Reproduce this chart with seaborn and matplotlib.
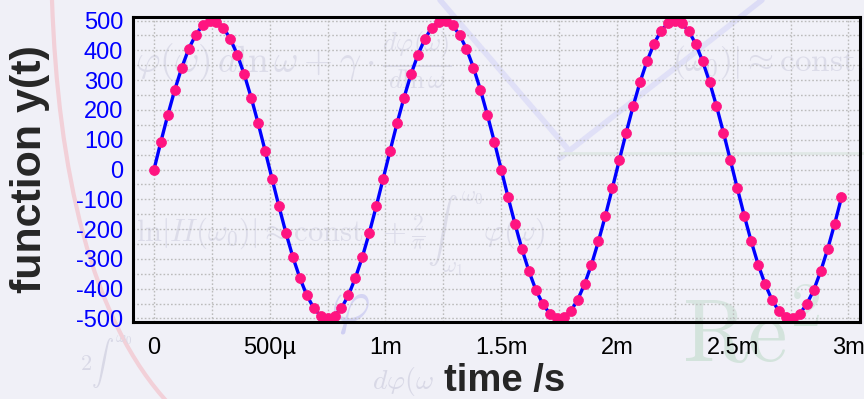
import numpy as np
import pandas as pd
import matplotlib
matplotlib.use("Agg")
import matplotlib.pyplot as plt
from matplotlib.lines import Line2D
from matplotlib.path import Path
from matplotlib.patches import PathPatch
import seaborn as sns

# sample times in microseconds (30 µs step)
t_us = [i * 30 for i in range(100)]

# measured function values y(t)
y_vals = [
    0, 94, 184, 268, 342, 405, 452, 484, 499, 496,
    476, 438, 385, 319, 241, 155, 63, -31, -124, -213,
    -294, -364, -422, -465, -491, -500, -491, -465, -422, -364,
    -294, -213, -124, -31, 63, 155, 241, 319, 385, 438,
    476, 496, 499, 484, 452, 405, 342, 268, 184, 94,
    0, -94, -184, -268, -342, -405, -452, -484, -499, -496,
    -476, -438, -385, -319, -241, -155, -63, 31, 124, 213,
    294, 364, 422, 465, 491, 500, 491, 465, 422, 364,
    294, 213, 124, 31, -63, -155, -241, -319, -385, -438,
    -476, -496, -499, -484, -452, -405, -342, -268, -184, -94,
]

x_ticks = [0, 500e-6, 1e-3, 1.5e-3, 2e-3, 2.5e-3, 3e-3]
x_ticklabels = ["0", "500µ", "1m", "1.5m", "2m", "2.5m", "3m"]
y_ticks = list(range(-500, 501, 100))
y_ticklabels = [str(v) for v in y_ticks]

df = pd.DataFrame({"t": np.array(t_us) * 1e-6, "y": y_vals})

sns.set_style("white")
plt.rcParams["font.family"] = ["Liberation Sans", "DejaVu Sans"]
plt.rcParams["mathtext.fontset"] = "cm"

W, H = 864, 399
bg = "#f0f0f7"
fig = plt.figure(figsize=(W / 100, H / 100), dpi=100, facecolor=bg)


def fx(px):
    return px / W


def fy(py):
    return 1 - py / H


# faint decorative backdrop: formulas, arcs and strokes (kept behind the axes)
deco = dict(color="#d8d8e6", zorder=-2, va="center", ha="left")
fig.text(fx(135), fy(60), r"$\varphi(\omega)\,d\ln\omega+\gamma\cdot\frac{d\varphi(\omega)}{d\ln\omega}$",
         fontsize=27, **deco)
fig.text(fx(672), fy(62), r"$(\omega_0)|\approx\mathrm{const.}$", fontsize=24, **deco)
fig.text(fx(136), fy(234), r"$\ln|H(\omega_0)|\approx\mathrm{const.}+\frac{2}{\pi}\int_{\omega_1}^{\omega_0}\varphi(\omega)$",
         fontsize=22, **deco)
fig.text(fx(80), fy(362), r"$2\int^{\omega_0}$", fontsize=16, **deco)
fig.text(fx(372), fy(382), r"$d\varphi(\omega$", fontsize=20, **deco)
fig.text(fx(330), fy(308), r"$\varphi$", fontsize=44, color="#cfcff2", zorder=-2, va="center", ha="left")
fig.text(fx(682), fy(338), r"$\mathrm{Re}^2$", fontsize=64, color="#d3e3dc", zorder=-2, va="center", ha="left")

arc = Path([(fx(52), fy(0)), (fx(58), fy(170)), (fx(90), fy(320)), (fx(170), fy(405))],
           [Path.MOVETO, Path.CURVE4, Path.CURVE4, Path.CURVE4])
fig.add_artist(PathPatch(arc, transform=fig.transFigure, fill=False,
                         edgecolor="#f2d0d8", lw=3, zorder=-2))
fig.add_artist(Line2D([fx(440), fx(567)], [fy(0), fy(148)], transform=fig.transFigure,
                      color="#dcdcf6", lw=4, zorder=-2))
fig.add_artist(Line2D([fx(560), fx(762)], [fy(158), fy(0)], transform=fig.transFigure,
                      color="#dcdcf6", lw=4, zorder=-2))
fig.add_artist(Line2D([fx(560), fx(864)], [fy(153), fy(153)], transform=fig.transFigure,
                      color="#dde6e2", lw=2, zorder=-2))

ax = fig.add_axes([fx(133), fy(322), (860 - 133) / W, (322 - 17) / H])
ax.set_facecolor((0.97, 0.97, 1.0, 0.15))

sns.lineplot(data=df, x="t", y="y", ax=ax, color="#0000ff", linewidth=2.4, zorder=3)
sns.scatterplot(data=df, x="t", y="y", ax=ax, color="#ff1480", s=52,
                edgecolor="#ff1480", linewidth=0.5, zorder=4)

ax.set_xlim(-0.0907e-3, 3.05e-3)
ax.set_ylim(-512, 512)

ax.set_xticks(x_ticks)
ax.set_xticklabels(x_ticklabels)
ax.set_xticks(np.arange(0, 3.01e-3, 250e-6), minor=True)
ax.set_yticks(y_ticks)
ax.set_yticklabels(y_ticklabels)
ax.set_yticks(range(-500, 501, 50), minor=True)

ax.tick_params(axis="both", which="both", length=0)
ax.tick_params(axis="y", labelsize=17, labelcolor="#0000ff", pad=7)
ax.tick_params(axis="x", labelsize=17, labelcolor="black", pad=11)

ax.grid(True, which="both", color="#bcbcbc", linestyle=(0, (1.2, 1.5)), linewidth=1.0)
ax.set_axisbelow(True)

for side in ["left", "right", "top", "bottom"]:
    ax.spines[side].set_visible(True)
    ax.spines[side].set_color("black")
    ax.spines[side].set_linewidth(2.2)
    ax.spines[side].set_zorder(5)

ax.set_xlabel("time /s", fontsize=27.5, fontweight="bold")
ax.xaxis.set_label_coords((505 - 133) / 727, -0.135)
ax.xaxis.label.set_va("top")
ax.set_ylabel("function y(t)", fontsize=31, fontweight="bold")
ax.yaxis.set_label_coords((50 - 133) / 727, 0.5)

fig.savefig("out.png", dpi=100, facecolor=bg)
